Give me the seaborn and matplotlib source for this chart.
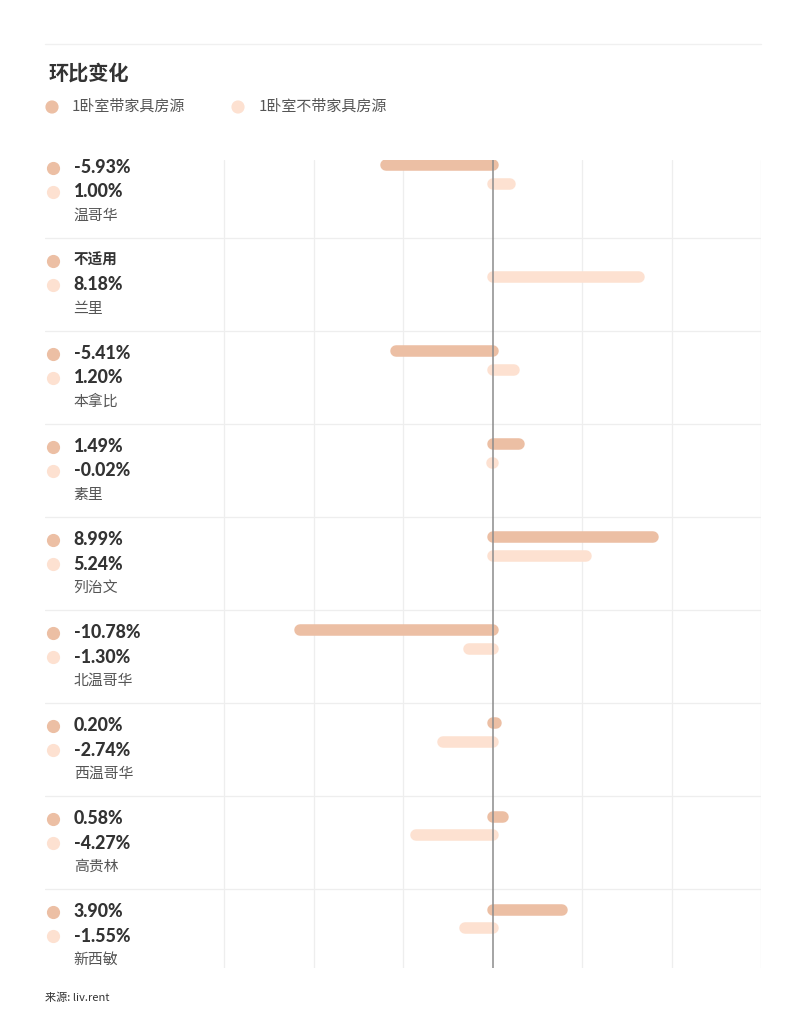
import numpy as np
import pandas as pd
import matplotlib.pyplot as plt
import seaborn as sns

# data
cities = ['温哥华', '兰里', '本拿比', '素里', '列治文', '北温哥华', '西温哥华', '高贵林', '新西敏']
furnished = [-5.93, np.nan, -5.41, 1.49, 8.99, -10.78, 0.20, 0.58, 3.90]
unfurnished = [1.00, 8.18, 1.20, -0.02, 5.24, -1.30, -2.74, -4.27, -1.55]
series = ['1卧室带家具房源', '1卧室不带家具房源']
colors = ['#ecbfa4', '#fde1d1']

sns.set_style('white')
plt.rcParams['font.family'] = ['Noto Sans CJK SC', 'DejaVu Sans']

df = pd.DataFrame({
    'city': cities * 2,
    'type': [series[0]] * len(cities) + [series[1]] * len(cities),
    'value': furnished + unfurnished,
})
df = df.dropna()

W, H = 805, 1024
fig = plt.figure(figsize=(W / 100, H / 100), dpi=100)

# main axes: x from 45px to 761px, y from 160px to 968px
ax = fig.add_axes([45 / W, 1 - 968 / H, (761 - 45) / W, (968 - 160) / H])
sns.barplot(data=df, y='city', x='value', hue='type', order=cities, hue_order=series,
            palette=colors, saturation=1, orient='h', width=0.4, errorbar=None,
            legend=False, ax=ax)

# replace the rectangles by round capped lines at the same place
for p in list(ax.patches):
    x0 = p.get_x()
    w = p.get_width()
    cy = p.get_y() + p.get_height() / 2
    ax.plot([x0, x0 + w], [cy, cy], color=p.get_facecolor(), lw=8.3,
            solid_capstyle='round', zorder=2)
    p.set_visible(False)

ax.set_xlim(-25, 15)
ax.set_ylim(8.529, -0.159)
for x in [-15, -10, -5, 5, 10, 15]:
    ax.axvline(x, color='#eeeeee', lw=0.9, zorder=0)
ax.axvline(0, color='#8c8c8c', lw=1.1, zorder=3)
for i in range(len(cities) - 1):
    ax.axhline(i + 0.68, color='#eeeeee', lw=0.9, zorder=0)

ax.set_xticks([])
ax.set_yticks([])
ax.set_xlabel('')
ax.set_ylabel('')
sns.despine(ax=ax, left=True, bottom=True)

# left labels
num_font = ['Lato', 'Noto Sans CJK SC']
ypos = np.arange(len(cities))
ax.scatter(np.full(len(cities), -24.55), ypos - 0.075, s=72, color=colors[0], zorder=3, clip_on=False)
ax.scatter(np.full(len(cities), -24.55), ypos + 0.185, s=72, color=colors[1], zorder=3, clip_on=False)
for i, c in enumerate(cities):
    f = furnished[i]
    t1 = '不适用' if np.isnan(f) else f'{f:.2f}%'
    t2 = f'{unfurnished[i]:.2f}%'
    size1 = 10.5 if np.isnan(f) else 12.8
    ax.text(-23.4, i - 0.075, t1, family=num_font, fontweight='black', fontsize=size1,
            color='#333333', va='center', ha='left')
    ax.text(-23.4, i + 0.185, t2, family=num_font, fontweight='black', fontsize=12.8,
            color='#333333', va='center', ha='left')
    ax.text(-23.4, i + 0.44, c, fontsize=10.7, color='#555555', va='center', ha='left')

# title, legend, source
ov = fig.add_axes([0, 0, 1, 1], zorder=-1)
ov.set_xlim(0, W)
ov.set_ylim(H, 0)
ov.axis('off')
ov.plot([45, 761], [44, 44], color='#f0f0f0', lw=1)
ov.text(49, 73, '环比变化', fontsize=14.5, fontweight='bold', color='#333333', va='center')
ov.scatter([52, 238], [107, 107], s=72, color=colors, clip_on=False)
ov.text(72, 107, series[0], fontsize=10.8, color='#555555', va='center')
ov.text(259, 107, series[1], fontsize=10.8, color='#555555', va='center')
ov.text(45, 998, '来源: liv.rent', fontsize=8, color='#333333', va='center')

fig.savefig('out.png', dpi=100, facecolor='white')
